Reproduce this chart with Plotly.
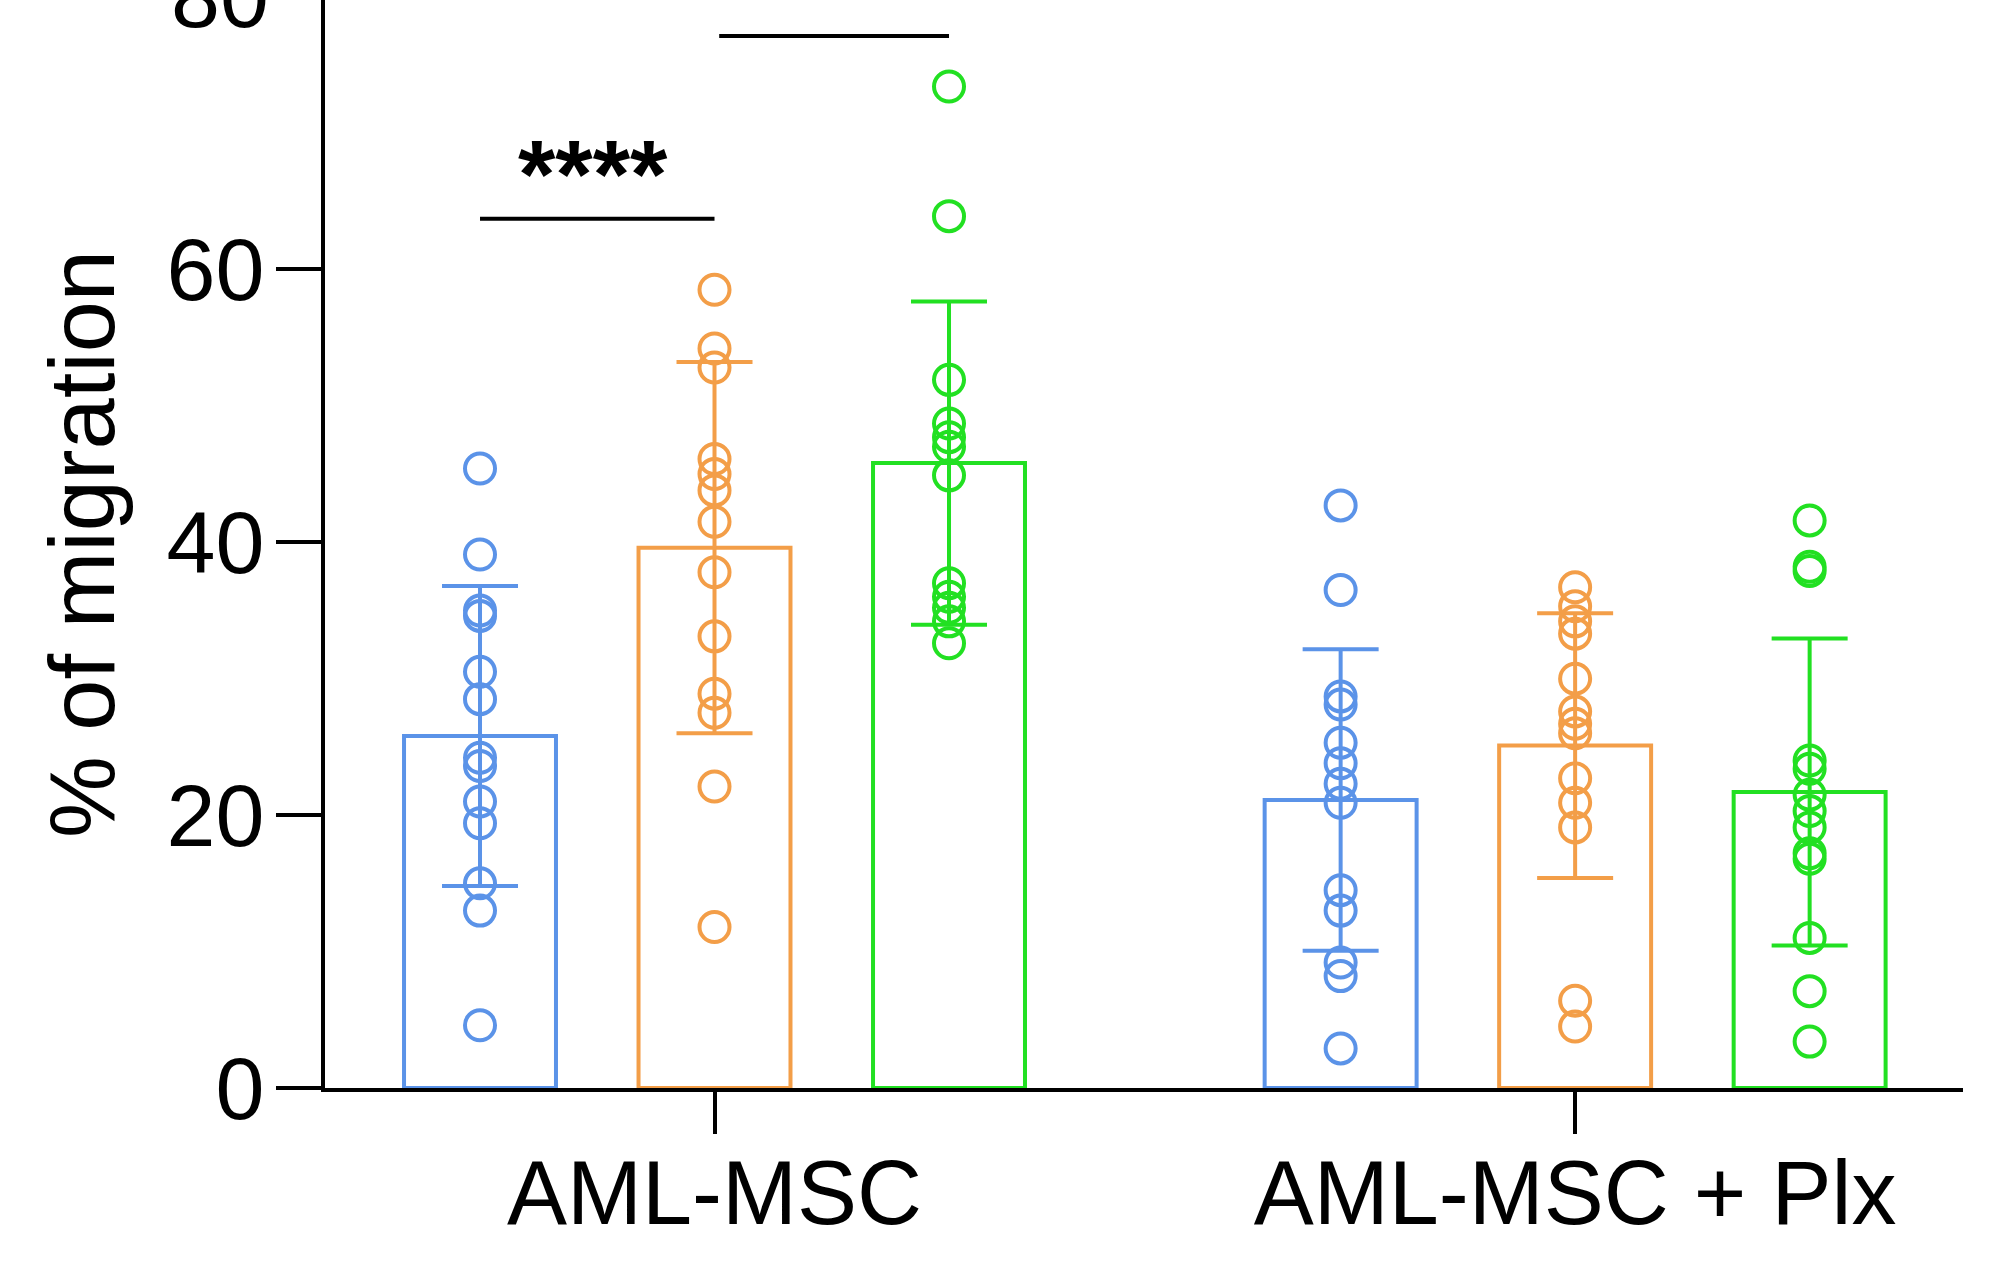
import plotly.graph_objects as go

# ---- data ----
groups = ["AML-MSC", "AML-MSC + Plx"]
conditions = ["blue", "orange", "green"]

blue_msc = [45.4, 39.1, 35.0, 34.6, 30.5, 28.5, 24.2, 23.6, 21.0, 19.4, 15.0, 13.0, 4.6]
orange_msc = [58.5, 54.2, 52.8, 46.1, 45.0, 43.8, 41.5, 37.8, 33.1, 28.9, 27.5, 22.1, 11.8]
green_msc = [73.4, 63.9, 51.9, 48.7, 47.7, 47.0, 44.9, 37.0, 36.0, 35.2, 34.2, 32.6]
blue_plx = [42.7, 36.5, 28.7, 28.1, 25.3, 23.8, 22.3, 20.9, 14.5, 13.0, 9.2, 8.2, 2.9]
orange_plx = [36.7, 35.3, 34.2, 33.3, 30.0, 27.6, 26.7, 26.0, 22.7, 20.9, 19.1, 6.4, 4.5]
green_plx = [41.6, 38.2, 37.9, 24.0, 23.4, 21.5, 20.3, 19.1, 17.2, 16.8, 11.0, 7.1, 3.4]

bar_means = [25.8, 39.6, 45.8, 21.1, 25.1, 21.7]
bar_sd = [11.0, 13.6, 11.85, 11.05, 9.7, 11.25]

y_ticks = [0, 20, 40, 60, 80]
y_title = "% of migration"

# significance comparisons: (left bar offset, right bar offset, line height, label)
sig_lines = [(0, 1.0, 63.7, "****"), (1.02, 2, 77.1, "")]

# ---- layout / style ----
colors = ["#5B93E8", "#F39E48", "#22E022"]
positions = [0, 1, 2, 3.67, 4.67, 5.67]
group_pos = [1, 4.67]
series = [blue_msc, orange_msc, green_msc, blue_plx, orange_plx, green_plx]
FONT = "Liberation Sans, Arial, sans-serif"
Y_MAX = 79.74

fig = go.Figure()
for i, (pos, vals) in enumerate(zip(positions, series)):
    c = colors[i % 3]
    fig.add_trace(go.Bar(
        x=[pos], y=[bar_means[i]], width=0.648,
        marker=dict(color="rgba(255,255,255,0)", line=dict(color=c, width=4)),
        error_y=dict(type="data", array=[bar_sd[i]], color=c, thickness=4, width=38),
        showlegend=False,
    ))
for i, (pos, vals) in enumerate(zip(positions, series)):
    c = colors[i % 3]
    fig.add_trace(go.Scatter(
        x=[pos] * len(vals), y=vals, mode="markers",
        marker=dict(symbol="circle-open", size=30, color=c, line=dict(width=4)),
        showlegend=False, cliponaxis=False,
    ))

shapes = []
annotations = []
for x0, x1, h, lab in sig_lines:
    shapes.append(dict(type="line", xref="x", yref="y", x0=positions[0] + x0, x1=positions[0] + x1,
                       y0=h, y1=h, line=dict(color="black", width=4)))
    if lab:
        annotations.append(dict(x=(x0 + x1) / 2 - 0.02, y=h + 3.35, xref="x", yref="y", text="<b>" + lab + "</b>",
                                showarrow=False, font=dict(family=FONT, size=96, color="black"),
                                xanchor="center", yanchor="middle"))

# top tick label (80) sits just above the cropped plot top, partly cut off as in the reference
annotations.append(dict(x=0, y=y_ticks[-1] / Y_MAX, xref="paper", yref="paper", text=str(y_ticks[-1]),
                        showarrow=False, xanchor="right", yanchor="middle", xshift=-54,
                        font=dict(family=FONT, size=88, color="black")))

fig.update_layout(
    width=1992, height=1283,
    margin=dict(l=325, r=29, t=0, b=195),
    plot_bgcolor="white", paper_bgcolor="white",
    barmode="overlay",
    font=dict(family=FONT, color="black"),
    shapes=shapes, annotations=annotations,
    xaxis=dict(range=[-0.661, 6.324], showline=True, linewidth=4, linecolor="black",
               ticks="outside", ticklen=42, tickwidth=4, tickcolor="black",
               tickvals=group_pos, ticktext=groups, tickfont=dict(size=90),
               ticklabelstandoff=-18,
               showgrid=False, zeroline=False),
    yaxis=dict(range=[0, Y_MAX], showline=True, linewidth=4, linecolor="black",
               ticks="outside", ticklen=45, tickwidth=4, tickcolor="black",
               tickvals=y_ticks[:-1], tickfont=dict(size=88),
               ticklabelstandoff=-6,
               showgrid=False, zeroline=False,
               title=dict(text=y_title, font=dict(size=92), standoff=22)),
)

fig.write_html("out.html")
